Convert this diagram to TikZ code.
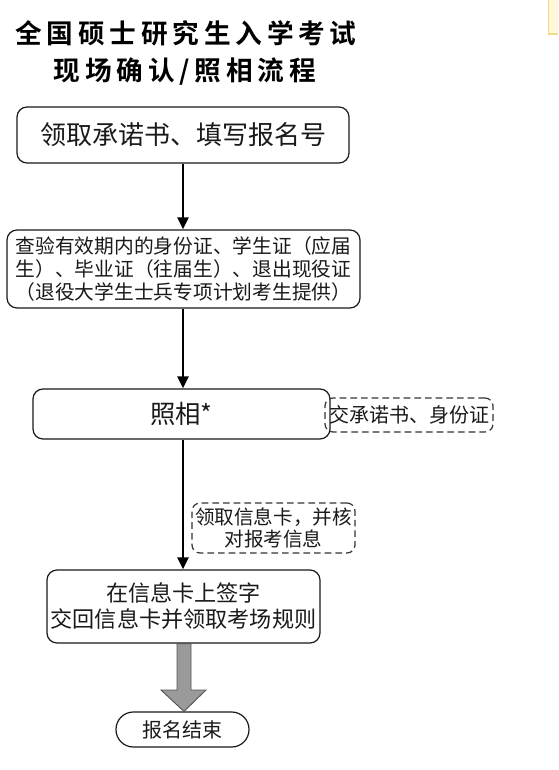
\documentclass[tikz,border=0pt]{standalone}
\usepackage{fontspec}
\usetikzlibrary{arrows.meta,calc}
\newfontfamily\cjk{Noto Sans CJK SC}
\newfontfamily\cjktitle[LetterSpace=18]{Noto Sans CJK SC Bold}
\definecolor{ink}{HTML}{1A1A1A}
\definecolor{dashink}{HTML}{333333}
\definecolor{arrowgray}{HTML}{9A9A9A}
\definecolor{arrowedge}{HTML}{555555}
\definecolor{notefill}{HTML}{FFF7DA}
\definecolor{noteedge}{HTML}{F2D98C}
\tikzset{
  procbox/.style={draw=ink, line width=0.9pt, rounded corners=7.5pt, align=center,
    inner sep=0pt, text=ink, font=\cjk},
  notebox/.style={draw=dashink, line width=0.9pt, dashed, dash pattern=on 5pt off 3pt,
    rounded corners=6pt, align=center, inner sep=0pt, text=ink, font=\cjk},
  flowarrow/.style={draw=black, line width=2.2pt,
    -{Triangle[length=9pt,width=8pt]}},
  flowline/.style={draw=black, line width=2.2pt},
}
\begin{document}
\begin{tikzpicture}[x=0.75pt,y=-0.75pt]
\useasboundingbox (0,0) rectangle (558,770);
\fill[white] (0,0) rectangle (558,770);
% corner strip
\path[fill=notefill] (548,0) rectangle (558,34);
\draw[noteedge, line width=0.8pt] (548.5,0) -- (548.5,34) -- (558,34);
% title
\node[font=\cjktitle\fontsize{20pt}{24pt}\selectfont, text=black] (t1) at (186,33) {全国硕士研究生入学考试};
\node[font=\cjktitle\fontsize{20pt}{24pt}\selectfont, text=black] (t2) at (185,72) {现场确认/照相流程};
% boxes
\node[procbox, minimum width={332*0.75pt}, minimum height={56*0.75pt},
  font=\cjk\fontsize{19.5pt}{23pt}\selectfont] (b1) at (183,135) {领取承诺书、填写报名号};
\node[procbox, minimum width={353*0.75pt}, minimum height={78*0.75pt},
  font=\cjk\fontsize{14.8pt}{17.3pt}\selectfont] (b2) at (183.5,269)
  {查验有效期内的身份证、学生证（应届\\生）、毕业证（往届生）、退出现役证\\（退役大学生士兵专项计划考生提供）};
\node[procbox, minimum width={297*0.75pt}, minimum height={50*0.75pt},
  font=\cjk\fontsize{19pt}{23pt}\selectfont] (b3) at (181.5,414) {照相*};
\node[notebox, minimum width={168*0.75pt}, minimum height={34*0.75pt},
  font=\cjk\fontsize{15pt}{18pt}\selectfont] (n1) at (409,415) {交承诺书、身份证};
\node[notebox, minimum width={163*0.75pt}, minimum height={50*0.75pt},
  font=\cjk\fontsize{14.7pt}{16.5pt}\selectfont] (n2) at (273.5,528) {领取信息卡，并核\\对报考信息};
\node[procbox, minimum width={273*0.75pt}, minimum height={73*0.75pt},
  font=\cjk\fontsize{16.6pt}{19.5pt}\selectfont] (b4) at (183.5,606.5)
  {在信息卡上签字\\交回信息卡并领取考场规则};
\node[procbox, rounded corners=13pt, minimum width={133*0.75pt}, minimum height={35*0.75pt},
  font=\cjk\fontsize{15pt}{18pt}\selectfont] (b5) at (182.5,729.5) {报名结束};
% connectors
\coordinate (ax) at (183,0);
\draw[flowarrow] (b1.south -| ax) -- (b2.north -| ax);
\draw[flowarrow] (b2.south -| ax) -- (b3.north -| ax);
\draw[flowarrow] (b3.south -| ax) -- (b4.north -| ax);
% gray block arrow
\coordinate (g) at (184,0);
\draw[fill=arrowgray, draw=arrowedge, line width=0.7pt]
  ($(b4.south -| g)+(-7,0)$) -- ($(b4.south -| g)+(7,0)$) -- (191,690) -- (206,690)
  -- (b5.north -| g) -- (161,690) -- (177,690) -- cycle;
\end{tikzpicture}
\end{document}
